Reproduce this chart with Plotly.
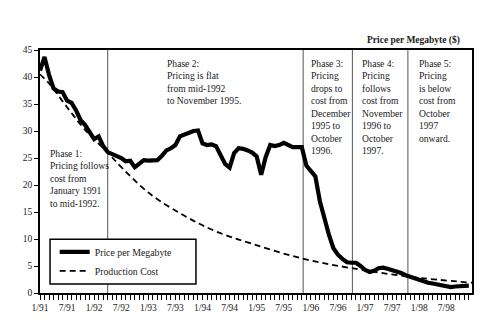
import plotly.graph_objects as go

# Month index: 0 = January 1991, 95 = December 1998
month_index = list(range(96))

# Average price per megabyte ($), monthly
price_per_mb = [
    41.2, 43.7, 40.4, 37.9, 37.3, 37.2, 35.6, 35.2, 33.8, 32.0,
    31.1, 29.8, 28.5, 29.0, 27.2, 26.1, 25.8, 25.4, 25.0, 24.4,
    24.5, 23.3, 23.9, 24.6, 24.5, 24.5, 24.6, 25.4, 26.4, 26.8,
    27.4, 29.0, 29.3, 29.8, 30.0, 30.1, 27.7, 27.4, 27.5, 27.2,
    25.5, 23.9, 23.2, 25.9, 26.8, 26.7, 26.4, 26.0, 25.3, 21.9,
    25.2, 27.4, 27.2, 27.4, 27.8, 27.5, 27.0, 27.0, 27.0, 23.6,
    22.7, 21.6, 17.0, 13.8, 10.8, 8.3, 7.1, 6.3, 5.7, 5.6,
    5.6, 5.0, 4.3, 3.9, 4.1, 4.6, 4.7, 4.5, 4.3, 4.0,
    3.7, 3.3, 3.0, 2.6, 2.3, 2.1, 1.9, 1.75, 1.55, 1.35,
    1.15, 1.1, 1.2, 1.25, 1.3, 1.35,
]

# Production cost per megabyte ($)
cost_month = [0, 2, 6, 10, 15, 17, 24, 32, 39, 47, 58, 69, 82, 95.7]
cost_value = [40.5, 38.8, 34.4, 30.2, 26.0, 24.2, 18.6, 14.3, 11.4, 9.1, 6.4, 4.6, 3.0, 1.9]

# Start of phases 2-5 (month index)
phase_start = [15, 58.3, 69.2, 81.5]

tick_months = [0, 6, 12, 18, 24, 30, 36, 42, 48, 54, 60, 66, 72, 78, 84, 90]
tick_labels = ["1/91", "7/91", "1/92", "7/92", "1/93", "7/93", "1/94", "7/94",
               "1/95", "7/95", "1/96", "7/96", "1/97", "7/97", "1/98", "7/98"]

phase_notes = [
    (1.7, 27.2, "Phase 1:<br>Pricing follows<br>cost from<br>January 1991<br>to mid-1992."),
    (27.6, 43.8, "Phase 2:<br>Pricing is flat<br>from mid-1992<br>to November 1995."),
    (59.5, 43.8, "Phase 3:<br>Pricing<br>drops to<br>cost from<br>December<br>1995 to<br>October<br>1996."),
    (70.9, 43.8, "Phase 4:<br>Pricing<br>follows<br>cost from<br>November<br>1996 to<br>October<br>1997."),
    (83.6, 43.8, "Phase 5:<br>Pricing<br>is below<br>cost from<br>October<br>1997<br>onward."),
]

SERIF = "Liberation Serif"
INK = "#1a1a1a"

fig = go.Figure()

fig.add_trace(go.Scatter(
    x=month_index, y=price_per_mb, mode="lines", name="Price per Megabyte",
    line=dict(color="black", width=4.2),
))
fig.add_trace(go.Scatter(
    x=cost_month, y=cost_value, mode="lines", name="Production Cost",
    line=dict(color="black", width=1.8, dash="6px,4px", shape="spline", smoothing=1.0),
))

for m in phase_start:
    fig.add_shape(type="line", xref="x", yref="paper", x0=m, x1=m, y0=0, y1=1,
                  line=dict(color="#555555", width=1), layer="below")

# Frame around the legend
fig.add_shape(type="rect", xref="paper", yref="paper",
              x0=0.0232, x1=0.361, y0=0.037, y1=0.221,
              line=dict(color="black", width=1.5), fillcolor="white", layer="below")

for x, y, txt in phase_notes:
    fig.add_annotation(x=x, y=y, xref="x", yref="y", text=txt, showarrow=False,
                       xanchor="left", yanchor="top", align="left",
                       font=dict(family=SERIF, size=9.6, color=INK))

fig.add_annotation(x=1.0, y=1.008, xref="paper", yref="paper", xshift=-10,
                   text="<b>Price per Megabyte ($)</b>", showarrow=False,
                   xanchor="right", yanchor="bottom",
                   font=dict(family=SERIF, size=9.5, color=INK))

fig.update_layout(
    width=500, height=333,
    margin=dict(l=40, r=28, t=50, b=40),
    paper_bgcolor="white", plot_bgcolor="white",
    showlegend=True,
    legend=dict(x=0.034, y=0.229, xanchor="left", yanchor="top",
                bgcolor="rgba(0,0,0,0)", borderwidth=0,
                font=dict(family=SERIF, size=9.8, color=INK),
                tracegroupgap=0, itemwidth=30),
    font=dict(family=SERIF, size=9.5, color=INK),
)

fig.update_xaxes(
    range=[0, 95.7], showgrid=False, zeroline=False,
    showline=True, linecolor="black", linewidth=1.6, mirror=True,
    tickmode="array", tickvals=tick_months, ticktext=tick_labels,
    ticks="outside", ticklen=5, tickwidth=1, tickcolor="black",
    minor=dict(dtick=1, tick0=0, ticks="outside", ticklen=5, tickwidth=1, tickcolor="black"),
    tickfont=dict(family=SERIF, size=9.5, color=INK),
)
fig.update_yaxes(
    range=[0, 45], showgrid=False, zeroline=False,
    showline=True, linecolor="black", linewidth=1.6, mirror=True,
    tickmode="array", tickvals=list(range(0, 46, 5)),
    ticks="outside", ticklen=4, tickwidth=1, tickcolor="black",
    tickfont=dict(family=SERIF, size=9.5, color=INK),
)

fig.write_html("out.html")
